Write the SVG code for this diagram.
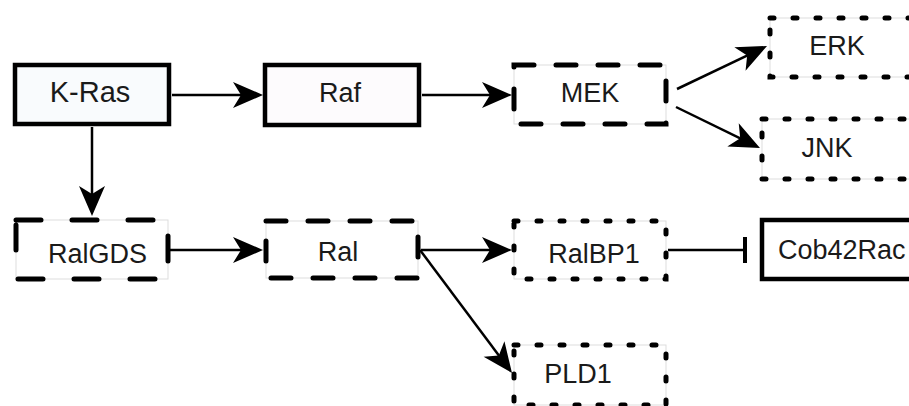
<svg xmlns="http://www.w3.org/2000/svg" width="909" height="406" viewBox="0 0 909 406">
<style>
text{font-family:"Liberation Sans",Arial,sans-serif;font-size:27px;fill:#1a1a1a;text-anchor:middle}
.ghost{fill:none;stroke:#dddddd;stroke-width:1}
.solid{stroke:#000;stroke-width:4.5}
.dash{fill:none;stroke:#000;stroke-width:5;stroke-linecap:round;stroke-dasharray:20 22}
.dashL{fill:none;stroke:#000;stroke-width:5;stroke-linecap:round;stroke-dasharray:25 31}
.dot{fill:none;stroke:#000;stroke-width:5;stroke-linecap:round;stroke-dasharray:4 19}
.edge{fill:none;stroke:#000;stroke-width:2.5}
</style>
<defs>
<marker id="arr" markerUnits="userSpaceOnUse" markerWidth="34" markerHeight="30" viewBox="-22 -15 34 30" refX="0" refY="0" orient="auto">
<path d="M10,0 L-20,-13 L-12,0 L-20,13 Z" fill="#000"/>
</marker>
</defs>
<rect width="909" height="406" fill="#fff"/>
<g id="connectors">
<line class="edge" x1="172" y1="95" x2="253" y2="95" marker-end="url(#arr)"/>
<line class="edge" x1="422" y1="95" x2="502" y2="95" marker-end="url(#arr)"/>
<line class="edge" x1="677" y1="89" x2="758" y2="50.3" marker-end="url(#arr)"/>
<line class="edge" x1="676" y1="107" x2="751" y2="143.6" marker-end="url(#arr)"/>
<line class="edge" x1="92" y1="127" x2="92" y2="206" marker-end="url(#arr)"/>
<line class="edge" x1="170" y1="250" x2="253" y2="250" marker-end="url(#arr)"/>
<line class="edge" x1="421" y1="250" x2="502" y2="250" marker-end="url(#arr)"/>
<line class="edge" x1="420" y1="250" x2="506" y2="365" marker-end="url(#arr)"/>
<line class="edge" x1="668" y1="250" x2="745" y2="250"/>
<line x1="745" y1="237" x2="745" y2="263" stroke="#000" stroke-width="4"/>
</g>
<g id="kras">
<rect class="solid" x="15" y="65" width="154" height="59" fill="#f9fbfd"/>
<text x="90" y="102" style="font-size:29px">K-Ras</text>
</g>
<g id="raf">
<rect class="solid" x="265" y="65" width="154" height="60" fill="#fdfbfd"/>
<text x="340" y="102">Raf</text>
</g>
<g id="mek">
<rect class="ghost" x="514" y="65" width="152" height="59" fill="#fff"/>
<rect class="dash" x="514" y="65" width="152" height="59"/>
<text x="590" y="101.5">MEK</text>
</g>
<g id="erk">
<rect class="ghost" x="770" y="18" width="156" height="59" fill="#fff"/>
<rect class="dot" x="770" y="18" width="156" height="59"/>
<text x="837" y="55">ERK</text>
</g>
<g id="jnk">
<rect class="ghost" x="762" y="119" width="156" height="60" fill="#fff"/>
<rect class="dot" x="762" y="119" width="156" height="60"/>
<text x="827" y="156.5">JNK</text>
</g>
<g id="ralgds">
<rect class="ghost" x="16" y="220" width="152" height="59" fill="#fff"/>
<rect class="dashL" x="16" y="220" width="152" height="59"/>
<text x="97.5" y="262.5">RalGDS</text>
</g>
<g id="ral">
<rect class="ghost" x="266" y="221" width="152" height="57" fill="#fff"/>
<rect class="dash" x="266" y="221" width="152" height="57"/>
<text x="338" y="260.5">Ral</text>
</g>
<g id="ralbp1">
<rect class="ghost" x="514" y="221" width="152" height="58" fill="#fff"/>
<rect class="dot" x="514" y="221" width="152" height="58"/>
<text x="594" y="262.5">RalBP1</text>
</g>
<g id="cob42rac">
<rect class="solid" x="762" y="220" width="160" height="59" fill="#fff"/>
<text x="778" y="258.5" style="text-anchor:start">Cob42Rac</text>
</g>
<g id="pld1">
<rect class="ghost" x="514" y="345" width="152" height="60" fill="#fff"/>
<rect class="dot" x="514" y="345" width="152" height="60"/>
<text x="578" y="383">PLD1</text>
</g>
</svg>
